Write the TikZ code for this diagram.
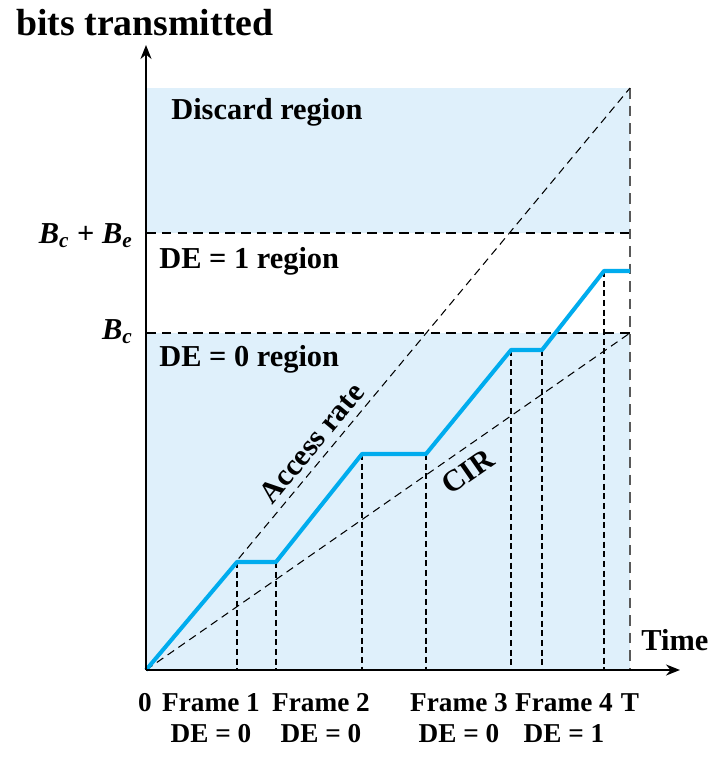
\documentclass[tikz,border=0pt]{standalone}
\usepackage{fontspec}
\setmainfont{Liberation Serif}
\usetikzlibrary{arrows.meta,positioning,calc}
\definecolor{rateblue}{RGB}{0,172,238}
\definecolor{zoneblue}{RGB}{223,240,251}

\newcommand{\Bsym}[1]{\textit{B}\textsubscript{\textit{#1}}}

\begin{document}
\begin{tikzpicture}[
x=0.02cm,y=-0.02cm,
lbl/.style={font=\fontsize{17.3}{20}\selectfont\bfseries,inner sep=0pt},
framelbl/.style={font=\fontsize{15.5}{18}\selectfont\bfseries,inner sep=0pt},
axis/.style={-{Stealth[length=2.8mm,width=2.2mm]},line width=1.1pt},
guide/.style={dash pattern=on 5.5pt off 3.5pt,line width=0.7pt},
drop/.style={dash pattern=on 3.5pt off 2pt,line width=0.7pt},
rate/.style={dash pattern=on 4.5pt off 3pt,line width=0.6pt},
bits/.style={rateblue,line width=2.3pt,line join=round}
]
\useasboundingbox (0,0) rectangle (710,761);

% corners of the plotting area
\coordinate (orig) at (146,670);
\coordinate (topT) at (630,88);
\coordinate (bce) at (146,233);
\coordinate (bce T) at (630,233);
\coordinate (bc) at (146,333);
\coordinate (bc T) at (630,333);
\coordinate (endT) at (630,670);

% shaded regions, white band for DE = 1
\fill[zoneblue] (orig) rectangle (topT);
\fill[white] (bce) rectangle (bc T);

% corners of the bits curve
\coordinate (f1a) at (237,562);
\coordinate (f1b) at (276,562);
\coordinate (f2a) at (362,454);
\coordinate (f2b) at (426,454);
\coordinate (f3a) at (511,350);
\coordinate (f3b) at (542,350);
\coordinate (f4a) at (604,271);
\coordinate (f4b) at (630,271);

% thresholds and time limit
\draw[guide] (bce) -- (bce T);
\draw[guide] (bc) -- (bc T);
\draw[guide,gray!70!black,line width=1.1pt,dash pattern=on 6pt off 4pt] (topT) -- (endT);

% access rate and CIR
\draw[rate] (orig) -- node[lbl,sloped,above=4pt,pos=0.37] (acc) {Access rate} (topT);
\draw[rate] (orig) -- node[lbl,sloped,below=6pt,pos=0.64] (cir) {CIR} (bc T);

% frame boundaries
\draw[drop] (f1a) -- (f1a |- orig);
\draw[drop] (f1b) -- (f1b |- orig);
\draw[drop] (f2a) -- (f2a |- orig);
\draw[drop] (f2b) -- (f2b |- orig);
\draw[drop] (f3a) -- (f3a |- orig);
\draw[drop] (f3b) -- (f3b |- orig);
\draw[drop] (f4a) -- (f4a |- orig);

\draw[bits] (orig) -- (f1a) -- (f1b) -- (f2a) -- (f2b) -- (f3a) -- (f3b) -- (f4a) -- (f4b);

% axes
\draw[axis] (orig) -- (146,45);
\draw[axis] (orig) -- (680,670);

\node[lbl,font=\fontsize{21.5}{24}\selectfont\bfseries,anchor=base west] (ylab) at (16,35) {bits transmitted};
\node[lbl,anchor=base west] (tlab) at (641,650) {Time};
\node[lbl,anchor=base east] (bcelab) at (133,243) {\Bsym{c} + \Bsym{e}};
\node[lbl,anchor=base east] (bclab) at (133,339) {\Bsym{c}};
\node[lbl,anchor=base west] (discard) at (171,119) {Discard region};
\node[lbl,anchor=base west] (de1) at (159,268) {DE = 1 region};
\node[lbl,anchor=base west] (de0) at (159,366) {DE = 0 region};

% frame labels under the time axis
\node[framelbl,anchor=base] (zero) at (145,711) {0};
\node[framelbl,anchor=base] (fr1) at (211,711) {Frame 1};
\node[framelbl,anchor=base] (fr2) at (321,711) {Frame 2};
\node[framelbl,anchor=base] (fr3) at (459,711) {Frame 3};
\node[framelbl,anchor=base] (fr4) at (564,711) {Frame 4};
\node[framelbl,anchor=base] (tend) at (630,711) {T};
\node[framelbl,anchor=base] (fde1) at (211,742) {DE = 0};
\node[framelbl,anchor=base] (fde2) at (321,742) {DE = 0};
\node[framelbl,anchor=base] (fde3) at (459,742) {DE = 0};
\node[framelbl,anchor=base] (fde4) at (564,742) {DE = 1};
\end{tikzpicture}
\end{document}
